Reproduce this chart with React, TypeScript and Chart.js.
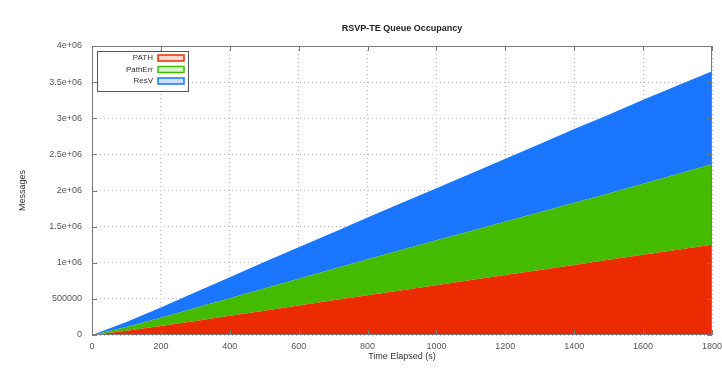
import React, { useEffect, useRef } from "react";
import { Chart, registerables } from "chart.js";

Chart.register(...registerables);

const TITLE = "RSVP-TE Queue Occupancy";
const X_TITLE = "Time Elapsed (s)";
const Y_TITLE = "Messages";

const times = [0, 100, 200, 300, 400, 500, 600, 700, 800, 900, 1000, 1100, 1200, 1300, 1400, 1500, 1600, 1700, 1800];
const pathValues = [0, 60000, 125000, 195000, 265000, 335000, 410000, 480000, 550000, 620000, 690000, 760000, 830000, 900000, 970000, 1040000, 1110000, 1180000, 1250000];
const pathErrValues = [0, 50000, 115000, 180000, 245000, 310000, 370000, 435000, 500000, 560000, 620000, 680000, 740000, 800000, 860000, 920000, 985000, 1050000, 1115000];
const resvValues = [0, 70000, 140000, 215000, 290000, 365000, 435000, 505000, 575000, 650000, 720000, 795000, 870000, 945000, 1020000, 1090000, 1160000, 1225000, 1285000];
const seriesLabels = ["PATH", "PathErr", "ResV"];
const yTickLabels = ["0", "500000", "1e+06", "1.5e+06", "2e+06", "2.5e+06", "3e+06", "3.5e+06", "4e+06"];

const COLORS = ["rgb(236,44,0)", "rgb(68,186,0)", "rgb(26,118,255)"];
const LIGHT = ["rgb(252,215,205)", "rgb(215,242,200)", "rgb(205,225,255)"];
const FONT = "'Liberation Sans', Arial, sans-serif";

const framePlugin = {
  id: "frame",
  afterDraw(chart: any) {
    const { ctx, chartArea } = chart;
    const { left, top, right, bottom } = chartArea;
    const xs = chart.scales.x;
    const ys = chart.scales.y;
    ctx.save();
    ctx.strokeStyle = "#7a7a7a";
    ctx.lineWidth = 1;
    ctx.strokeRect(left + 0.5, top + 0.5, right - left - 1, bottom - top - 1);
    ctx.beginPath();
    ys.ticks.forEach((t: any) => {
      const y = Math.round(ys.getPixelForValue(t.value)) + 0.5;
      ctx.moveTo(left, y);
      ctx.lineTo(left + 5, y);
      ctx.moveTo(right, y);
      ctx.lineTo(right - 5, y);
    });
    xs.ticks.forEach((t: any) => {
      const x = Math.round(xs.getPixelForValue(t.value)) + 0.5;
      ctx.moveTo(x, bottom);
      ctx.lineTo(x, bottom - 5);
      ctx.moveTo(x, top);
      ctx.lineTo(x, top + 5);
    });
    ctx.stroke();

    // title
    ctx.fillStyle = "#222";
    ctx.font = `bold 9px ${FONT}`;
    ctx.textAlign = "center";
    ctx.textBaseline = "middle";
    ctx.fillText(TITLE, (left + right) / 2, 29);

    // legend
    const lx = left + 5;
    const ly = top + 5;
    const lw = 91;
    const lh = 40;
    ctx.fillStyle = "#fff";
    ctx.fillRect(lx, ly, lw, lh);
    ctx.strokeStyle = "#555";
    ctx.strokeRect(lx + 0.5, ly + 0.5, lw, lh);
    ctx.font = `8px ${FONT}`;
    ctx.textAlign = "right";
    chart.data.datasets.forEach((ds: any, i: number) => {
      const cy = ly + 7 + i * 11.5;
      ctx.fillStyle = "#333";
      ctx.fillText(ds.label, lx + 56, cy);
      ctx.fillStyle = LIGHT[i];
      ctx.fillRect(lx + 61, cy - 3, 26, 6);
      ctx.strokeStyle = COLORS[i];
      ctx.lineWidth = 1.5;
      ctx.strokeRect(lx + 61, cy - 3, 26, 6);
    });
    ctx.restore();
  },
};

export default function App() {
  const ref = useRef<HTMLCanvasElement>(null);
  useEffect(() => {
    document.body.style.margin = "0";
    const series = [pathValues, pathErrValues, resvValues];
    const chart = new Chart(ref.current as HTMLCanvasElement, {
      type: "line",
      data: {
        datasets: series.map((vals, i) => ({
          label: seriesLabels[i],
          data: times.map((t, j) => ({ x: t, y: vals[j] })),
          backgroundColor: COLORS[i],
          borderColor: COLORS[i],
          borderWidth: 0,
          pointRadius: 0,
          fill: i === 0 ? "origin" : "-1",
          tension: 0,
        })),
      },
      options: {
        animation: false,
        responsive: false,
        layout: { padding: { top: 46, right: 0, bottom: 0, left: 0 } },
        plugins: {
          legend: { display: false },
          title: { display: false },
          tooltip: { enabled: false },
        },
        scales: {
          x: {
            type: "linear",
            min: 0,
            max: 1800,
            border: { display: false, dash: [1, 3] },
            grid: { color: "#b8b8b8", drawTicks: false },
            ticks: {
              stepSize: 200,
              padding: 6,
              color: "#555",
              font: { family: FONT, size: 9 },
              maxRotation: 0,
              callback: (v: any) => String(v),
            },
            title: { display: true, text: X_TITLE, color: "#333", font: { family: FONT, size: 9 }, padding: { top: 0, bottom: 8 } },
            afterFit: (s: any) => { s.height = 35; s.paddingLeft = 0; s.paddingRight = 10; },
          },
          y: {
            stacked: true,
            min: 0,
            max: 4000000,
            border: { display: false, dash: [1, 3] },
            grid: { color: "#b8b8b8", drawTicks: false },
            ticks: {
              stepSize: 500000,
              padding: 10,
              color: "#555",
              font: { family: FONT, size: 9 },
              callback: (v: any) => yTickLabels[Math.round(Number(v) / 500000)],
            },
            title: { display: true, text: Y_TITLE, color: "#333", font: { family: FONT, size: 9 }, padding: { top: 17, bottom: 0 } },
            afterFit: (s: any) => { s.width = 92; },
          },
        },
      },
      plugins: [framePlugin],
    });
    return () => chart.destroy();
  }, []);
  return <canvas ref={ref} width={722} height={370} style={{ display: "block" }} />;
}
